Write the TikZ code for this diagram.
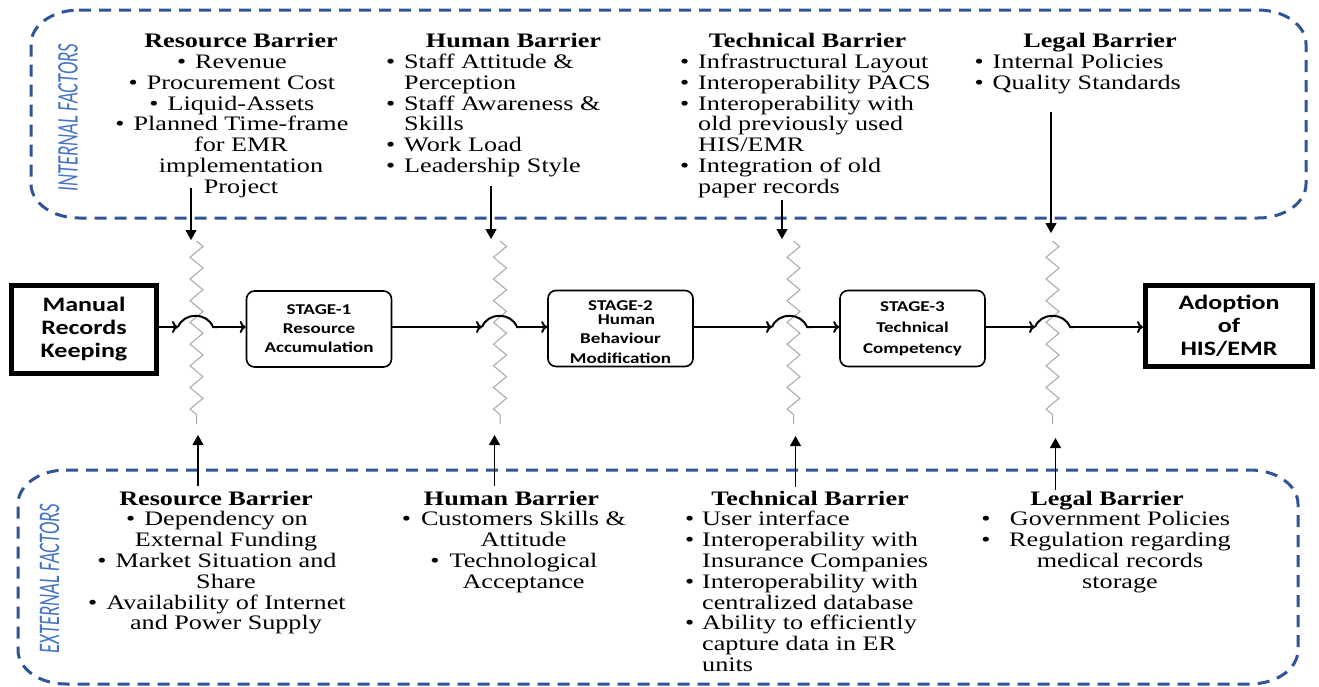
\documentclass[tikz,border=0pt]{standalone}
\usepackage{fontspec}
\usepackage{graphicx}
\setmainfont[FakeStretch=1.27]{Liberation Serif}
\newfontfamily\boxfont[FakeStretch=1.27]{Carlito}
\newfontfamily\sidefont{Carlito}
\usetikzlibrary{arrows.meta,decorations.pathmorphing}

\definecolor{frameblue}{HTML}{2F5597}
\definecolor{sideblue}{HTML}{4472C4}
\definecolor{zzgray}{HTML}{A6A6A6}

% hanging bullet: sits left of the text start, takes no width
\newcommand\bul[1][9pt]{\llap{\textbullet\hspace{#1}}}
\newcommand\colL[1]{\begin{tabular}[t]{@{}l@{}}#1\end{tabular}}
\newcommand\colC[1]{\begin{tabular}[t]{@{}c@{}}#1\end{tabular}}

\begin{document}
\begin{tikzpicture}[x=1pt,y=-1pt,
  txt/.style={font=\fontsize{20.6}{20.8}\selectfont, inner sep=0pt, anchor=base},
  head/.style={txt, font=\fontsize{20.6}{20.8}\selectfont\bfseries},
  listL/.style={txt, anchor=base west},
  side/.style={font=\sidefont\itshape\fontsize{18.7}{20}\selectfont, text=sideblue, inner sep=0pt, rotate=90},
  mainbox/.style={draw, line width=5pt, minimum width=145pt, minimum height=88pt, align=center,
    inner sep=0pt, font=\boxfont\bfseries\fontsize{20.5}{23}\selectfont},
  stagebox/.style={draw, line width=1.6pt, rounded corners=8pt, minimum width=145pt, minimum height=76pt,
    align=center, inner sep=0pt, font=\boxfont\bfseries\fontsize{15}{19}\selectfont},
  stagetext/.style={align=center, inner sep=0pt, font=\boxfont\bfseries\fontsize{15}{19.5}\selectfont},
  frame/.style={frameblue, line width=3pt, dash pattern=on 12pt off 8pt},
  feed/.style={line width=1.1pt, -{Triangle[length=10pt,width=11pt]}},
  flow/.style={line width=2pt, -{To[length=6pt,width=12pt]}},
  hop/.style={line width=2pt},
  zz/.style={zzgray, line width=1pt, decorate, decoration={zigzag, segment length=21.7pt, amplitude=6.5pt}}
]
\useasboundingbox (0,0) rectangle (1319,686);

% ---------- dashed frames ----------
\draw[frame] (79,10) -- (1258,10) .. controls (1284.5,10) and (1306,25.2) .. (1306,44)
  -- (1306,184) .. controls (1306,202.8) and (1284.5,218) .. (1258,218)
  -- (79,218) .. controls (52.5,218) and (31,202.8) .. (31,184)
  -- (31,44) .. controls (31,25.2) and (52.5,10) .. (79,10) -- cycle;
\draw[frame] (66,470) -- (1250,470) .. controls (1276.5,470) and (1298,485.2) .. (1298,504)
  -- (1298,650) .. controls (1298,668.8) and (1276.5,684) .. (1250,684)
  -- (66,684) .. controls (39.5,684) and (18,668.8) .. (18,650)
  -- (18,504) .. controls (18,485.2) and (39.5,470) .. (66,470) -- cycle;

\node[side] (intl) at (68,118) {\scalebox{1}[1.6]{INTERNAL FACTORS}};
\node[side] (extl) at (49.5,579) {\scalebox{1}[1.6]{EXTERNAL FACTORS}};

% ---------- internal factors ----------
\node[head] (ir) at (241,47.7) {Resource Barrier};
\node[txt] (irl) at (241,68.5) {\colC{\bul Revenue\\ \bul Procurement Cost\\ \bul Liquid-Assets\\
  \bul Planned Time-frame\\ for EMR\\ implementation\\ Project}};
\node[head] (ih) at (513.5,47.7) {Human Barrier};
\node[listL] (ihl) at (404,68.5) {\colL{\bul Staff Attitude \&\\ Perception\\ \bul Staff Awareness \&\\
  Skills\\ \bul Work Load\\ \bul Leadership Style}};
\node[head] (it) at (807.5,47.7) {Technical Barrier};
\node[listL] (itl) at (698,68.5) {\colL{\bul Infrastructural Layout\\ \bul Interoperability PACS\\
  \bul Interoperability with\\ old previously used\\ HIS/EMR\\ \bul Integration of old\\ paper records}};
\node[head] (il) at (1100,47.7) {Legal Barrier};
\node[listL] (ill) at (992.5,68.5) {\colL{\bul Internal Policies\\ \bul Quality Standards}};

% ---------- external factors ----------
\node[head] (er) at (216,505) {Resource Barrier};
\node[txt] (erl) at (226,525.8) {\colC{\bul Dependency on\\ External Funding\\ \bul Market Situation and\\
  Share\\ \bul Availability of Internet\\ and Power Supply}};
\node[head] (eh) at (511.5,505) {Human Barrier};
\node[txt] (ehl) at (523.5,525.8) {\colC{\bul[10pt]Customers Skills \&\\ Attitude\\
  \bul[10pt]Technological\\ Acceptance}};
\node[head] (et) at (810,505) {Technical Barrier};
\node[listL] (etl) at (702,525.8) {\colL{\bul[8pt]User interface\\ \bul[8pt]Interoperability with\\
  Insurance Companies\\ \bul[8pt]Interoperability with\\ centralized database\\
  \bul[8pt]Ability to efficiently\\ capture data in ER\\ units}};
\node[head] (el) at (1107,505) {Legal Barrier};
\node[txt] (ell) at (1120,525.8) {\colC{Government Policies\\ Regulation regarding\\ medical records\\ storage}};
\node[txt] (elb1) at (986,525.8) {\textbullet};
\node[txt] (elb2) at (986,546.6) {\textbullet};

% ---------- barrier lines ----------
\coordinate (z1t) at (196.5,241); \coordinate (z1b) at (196.5,424);
\coordinate (z2t) at (500,241);   \coordinate (z2b) at (500,424);
\coordinate (z3t) at (793.5,241); \coordinate (z3b) at (793.5,424);
\coordinate (z4t) at (1052.5,241);\coordinate (z4b) at (1052.5,424);
\foreach \i in {1,2,3,4} \draw[zz] (z\i t) -- (z\i b);

% ---------- factor arrows ----------
\coordinate (ta1) at (191,188);  \coordinate (tb1) at (191,240);
\coordinate (ta2) at (491,186);  \coordinate (tb2) at (491,239);
\coordinate (ta3) at (782,200);  \coordinate (tb3) at (782,239);
\coordinate (ta4) at (1051,112); \coordinate (tb4) at (1051,233);
\coordinate (ba1) at (198,486);    \coordinate (bb1) at (198,435);
\coordinate (ba2) at (494.5,486);  \coordinate (bb2) at (494.5,435);
\coordinate (ba3) at (795.5,487);  \coordinate (bb3) at (795.5,436);
\coordinate (ba4) at (1055.5,490); \coordinate (bb4) at (1055.5,438);
\foreach \i in {1,2,3,4} {
  \draw[feed] (ta\i) -- (tb\i);
  \draw[feed] (ba\i) -- (bb\i);
}

% ---------- main process ----------
\node[mainbox] (manual) at (84,329.5) {Manual\\Records\\Keeping};
\node[stagebox] (s1) at (319,329) {STAGE-1\\Resource\\Accumulation};
\node[stagebox] (s2) at (620.5,328.5) {};
\node[stagetext] (s2t) at (620.5,332) {STAGE-2\\[-5.5pt]\hspace*{12pt}Human\\Behaviour\\Modification};
\node[stagebox, font=\boxfont\bfseries\fontsize{15}{21}\selectfont] (s3) at (912.5,328.5) {STAGE-3\\Technical\\Competency};
\node[mainbox, minimum width=167pt, minimum height=81pt] (adopt) at (1229,326) {Adoption\\of\\HIS/EMR};

\coordinate (h1a) at (178,327);  \coordinate (h1b) at (218,327);
\coordinate (h2a) at (482,327);  \coordinate (h2b) at (520,327);
\coordinate (h3a) at (772,327);  \coordinate (h3b) at (812,327);
\coordinate (h4a) at (1035,327); \coordinate (h4b) at (1073,327);

\draw[flow] (manual.east |- h1a) -- (h1a);
\draw[flow] (s1.east |- h2a) -- (h2a);
\draw[flow] (s2.east |- h3a) -- (h3a);
\draw[flow] (s3.east |- h4a) -- (h4a);
\foreach \i in {1,2,3,4}
  \draw[hop] (h\i a) .. controls +(6,-15) and +(-6,-15) .. +(35,0) -- (h\i b);
\draw[flow] (h1b) -- (h1b -| s1.west);
\draw[flow] (h2b) -- (h2b -| s2.west);
\draw[flow] (h3b) -- (h3b -| s3.west);
\draw[flow] (h4b) -- (h4b -| adopt.west);
\end{tikzpicture}
\end{document}
